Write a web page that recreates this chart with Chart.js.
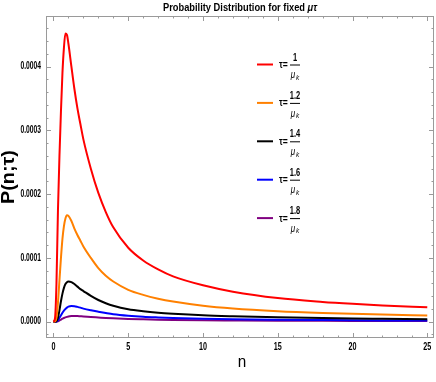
<!DOCTYPE html>
<html>
<head>
<meta charset="utf-8">
<script src="https://cdn.jsdelivr.net/npm/chart.js@4/dist/chart.umd.min.js"></script>
<style>
  html, body { margin: 0; padding: 0; background: #fff; }
  canvas { display: block; }
</style>
</head>
<body>
<canvas id="chart" width="436" height="382"></canvas>
<script>
// n values
const nVals = [0, 0.1, 0.2, 0.3, 0.4, 0.5, 0.6, 0.7, 0.8, 0.9, 1.0, 1.2, 1.4, 1.6, 1.8, 2.0,
               2.5, 3, 3.5, 4, 5, 6, 7, 8, 10, 12, 15, 18, 20, 22, 25];

// P(n;tau), one list per tau
const pTau10 = [0, 0.000005, 0.00006, 0.000175, 0.00026, 0.00033, 0.00039, 0.00043, 0.000452, 0.00045, 0.000436,
                0.0004, 0.000365, 0.000335, 0.00031, 0.000286, 0.00024, 0.000202, 0.000172, 0.000148,
                0.000116, 0.000096, 0.000082, 0.000071, 0.000057, 0.000047, 0.000037, 0.000031, 0.000028, 0.0000255, 0.0000225];
const pTau12 = [0, 0.0000005, 0.000006, 0.00003, 0.000065, 0.0001, 0.00013, 0.00015, 0.000162, 0.000167, 0.000166,
                0.000158, 0.000146, 0.000136, 0.000127, 0.000118, 0.0001, 0.000084, 0.000072, 0.000063,
                0.00005, 0.000042, 0.000036, 0.0000315, 0.000025, 0.0000207, 0.0000165, 0.0000137, 0.0000123, 0.0000112, 0.0000098];
const pTau14 = [0, 0, 0.000001, 0.000006, 0.000018, 0.000032, 0.000044, 0.000053, 0.000059, 0.000062, 0.000063,
                0.000062, 0.000059, 0.000055, 0.000051, 0.000048, 0.0000405, 0.000034, 0.000029, 0.000025,
                0.0000195, 0.0000163, 0.000014, 0.0000124, 0.00001, 0.0000085, 0.0000068, 0.0000056, 0.000005, 0.0000046, 0.000004];
const pTau16 = [0, 0, 0.0000003, 0.000002, 0.000006, 0.00001, 0.000014, 0.0000175, 0.00002, 0.000022, 0.0000235,
                0.0000246, 0.0000242, 0.0000232, 0.000022, 0.0000205, 0.0000178, 0.0000156, 0.0000136, 0.0000118,
                0.0000094, 0.0000077, 0.0000066, 0.0000057, 0.0000045, 0.0000037, 0.000003, 0.0000025, 0.0000022, 0.000002, 0.0000018];
const pTau18 = [0, 0, 0.0000001, 0.0000006, 0.0000018, 0.0000032, 0.0000046, 0.0000058, 0.0000068, 0.0000076, 0.0000082,
                0.0000088, 0.000009, 0.0000089, 0.0000086, 0.0000083, 0.0000074, 0.0000066, 0.0000058, 0.0000052,
                0.0000043, 0.0000037, 0.0000032, 0.0000028, 0.0000022, 0.0000019, 0.0000015, 0.0000013, 0.0000012, 0.0000011, 0.0000009];

const tauNums   = ["1", "1.2", "1.4", "1.6", "1.8"];
const seriesCol = ["rgb(255,0,0)", "rgb(255,128,0)", "rgb(0,0,0)", "rgb(0,0,255)", "rgb(128,0,128)"];
const seriesVal = [pTau10, pTau12, pTau14, pTau16, pTau18];

const yTickStep = 0.0001;
const xTickStep = 5;

const SANS = '"Liberation Sans", Arial, sans-serif';

// text squeezed sideways, like the condensed labels of the original
function squeezed(ctx, text, x, y, font, align, sx) {
  ctx.save();
  ctx.font = font;
  ctx.textAlign = align;
  ctx.textBaseline = "middle";
  ctx.translate(x, y);
  ctx.scale(sx, 1);
  ctx.fillText(text, 0, 0);
  ctx.restore();
}

// frame, inward ticks, tick labels, titles and the fraction legend
const decor = {
  id: "decor",
  afterDraw(chart) {
    const ctx = chart.ctx, a = chart.chartArea;
    const xs = chart.scales.x, ys = chart.scales.y;
    ctx.save();
    ctx.strokeStyle = "#9a9a9a";
    ctx.lineWidth = 1;
    ctx.strokeRect(a.left + 0.5, a.top + 0.5, a.right - a.left - 1, a.bottom - a.top - 1);

    ctx.beginPath();
    for (let i = 0; i <= 25; i++) {
      const px = Math.round(xs.getPixelForValue(i)) + 0.5;
      const len = i % 5 === 0 ? 5 : 2.5;
      ctx.moveTo(px, a.bottom); ctx.lineTo(px, a.bottom - len);
      ctx.moveTo(px, a.top);    ctx.lineTo(px, a.top + len);
    }
    for (let k = -1; k <= 23; k++) {
      const py = Math.round(ys.getPixelForValue(k * 0.00002)) + 0.5;
      const len = k % 5 === 0 ? 5 : 2.5;
      ctx.moveTo(a.left, py);  ctx.lineTo(a.left + len, py);
      ctx.moveTo(a.right, py); ctx.lineTo(a.right - len, py);
    }
    ctx.stroke();

    ctx.fillStyle = "#000";
    const tickFont = "bold 10px " + SANS;
    xs.ticks.forEach(t => {
      squeezed(ctx, String(Math.round(t.value)), xs.getPixelForValue(t.value), 347, tickFont, "center", 0.72);
    });
    ys.ticks.forEach(t => {
      squeezed(ctx, t.value.toFixed(4), 41, ys.getPixelForValue(t.value), tickFont, "right", 0.67);
    });

    // title, squeezed to the width of the original
    const tFont = "bold 11px " + SANS, tiFont = "italic bold 11px " + SANS;
    const t1 = "Probability Distribution for fixed ", t2 = "\u03bc\u03c4";
    ctx.font = tFont;   const w1 = ctx.measureText(t1).width;
    ctx.font = tiFont;  const w2 = ctx.measureText(t2).width;
    const sx = 154 / (w1 + w2);
    const tx = (a.left + a.right) / 2 - 77;
    squeezed(ctx, t1, tx, 8, tFont, "left", sx);
    squeezed(ctx, t2, tx + w1 * sx, 8, tiFont, "left", sx);

    // axis titles
    squeezed(ctx, "n", (a.left + a.right) / 2 + 2, 362, "17px " + SANS, "center", 0.9);
    ctx.save();
    ctx.translate(9, (a.top + a.bottom) / 2);
    ctx.rotate(-Math.PI / 2);
    squeezed(ctx, "P(n;\u03c4)", 0, 0, "bold 18px " + SANS, "center", 1.1);
    ctx.restore();

    // legend
    for (let i = 0; i < tauNums.length; i++) {
      const y = 64.5 + i * 38.4;
      ctx.strokeStyle = seriesCol[i];
      ctx.lineWidth = 2;
      ctx.beginPath(); ctx.moveTo(257, y); ctx.lineTo(273, y); ctx.stroke();
      ctx.fillStyle = "#000";
      squeezed(ctx, "\u03c4=", 279, y + 0.5, "bold 11px " + SANS, "left", 0.78);
      ctx.strokeStyle = "#000";
      ctx.lineWidth = 1;
      ctx.beginPath(); ctx.moveTo(290, y + 0.5); ctx.lineTo(300, y + 0.5); ctx.stroke();
      squeezed(ctx, tauNums[i], 295, y - 7, "bold 11px " + SANS, "center", 0.68);
      squeezed(ctx, "\u03bc", 293, y + 11, "italic 10px " + SANS, "center", 0.8);
      squeezed(ctx, "k", 297.5, y + 13, "italic 8px " + SANS, "center", 0.8);
    }
    ctx.restore();
  }
};

const datasets = seriesVal.map((vals, i) => ({
  data: nVals.map((n, j) => ({ x: n, y: vals[j] })),
  borderColor: seriesCol[i],
  borderWidth: 2,
  pointRadius: 0,
  fill: false,
  cubicInterpolationMode: "monotone"
}));

new Chart(document.getElementById("chart"), {
  type: "line",
  data: { datasets },
  options: {
    responsive: false,
    animation: false,
    layout: { padding: { top: 16, right: 2, left: 0, bottom: 0 } },
    plugins: { legend: { display: false }, title: { display: false }, tooltip: { enabled: false } },
    scales: {
      x: {
        type: "linear",
        min: -0.5, max: 25.45,
        grid: { display: false, drawTicks: false },
        border: { display: false },
        ticks: { stepSize: xTickStep, includeBounds: false, display: false },
        afterFit: s => { s.height = 44; }
      },
      y: {
        min: -0.0000256, max: 0.0004795,
        grid: { display: false, drawTicks: false },
        border: { display: false },
        ticks: { stepSize: yTickStep, includeBounds: false, display: false },
        afterFit: s => { s.width = 46; }
      }
    }
  },
  plugins: [decor]
});
</script>
</body>
</html>
